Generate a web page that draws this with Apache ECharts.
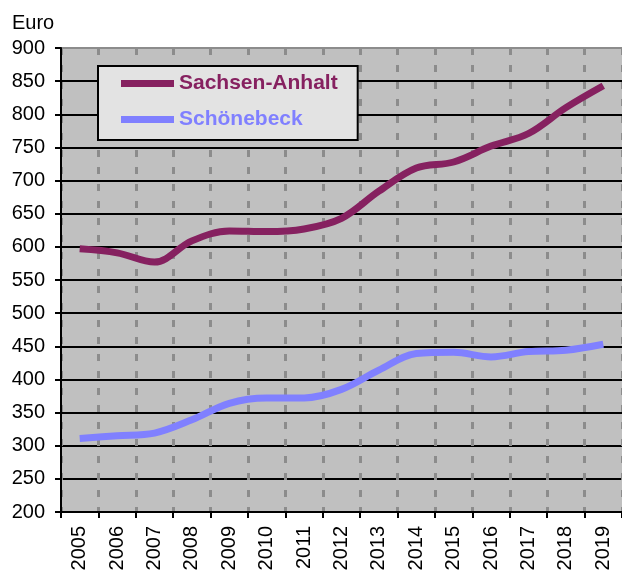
<!DOCTYPE html>
<html>
<head>
<meta charset="utf-8">
<script src="https://cdn.jsdelivr.net/npm/echarts@6/dist/echarts.min.js"></script>
<style>
html,body{margin:0;padding:0;background:#fff;}
#c{width:622px;height:574px;}
</style>
</head>
<body>
<div id="c"></div>
<script>
const years = ['2005','2006','2007','2008','2009','2010','2011','2012','2013','2014','2015','2016','2017','2018','2019'];
const sachsenAnhalt = [597, 591, 577, 609, 624, 623, 627, 643, 684, 719, 728, 752, 771, 810, 843];
const schoenebeck = [311, 315, 319, 339, 364, 372, 372, 385, 414, 439, 441, 434, 442, 444, 453];
const yTicks = { min: 200, max: 900, interval: 50 };
const seriesNames = ['Sachsen-Anhalt', 'Schönebeck'];
const seriesColors = ['#862160', '#8080ff'];

const font = 'Liberation Sans, Arial, sans-serif';
const chart = echarts.init(document.getElementById('c'), null, {renderer: 'canvas'});

const splitColors = [];
for (let v = yTicks.min; v <= yTicks.max; v += yTicks.interval) {
  splitColors.push(v === yTicks.max ? '#8c8c8c' : '#000000');
}

chart.setOption({
  animation: false,
  backgroundColor: '#ffffff',
  title: {
    text: 'Euro', left: 12, top: 13, padding: 0,
    textStyle: {fontFamily: font, fontSize: 20, fontWeight: 'normal', color: '#000'}
  },
  legend: {
    orient: 'vertical',
    left: 98, top: 66,
    backgroundColor: '#e3e3e3',
    borderColor: '#000', borderWidth: 2, borderRadius: 0,
    padding: [7, 20, 10, 23],
    itemGap: 15,
    itemWidth: 53, itemHeight: 7,
    icon: 'rect',
    data: seriesNames.map((n, i) => ({name: n, textStyle: {color: seriesColors[i]}})),
    textStyle: {fontFamily: font, fontSize: 21, fontWeight: 'bold'}
  },
  grid: {
    left: 61, top: 48, width: 570, bottom: 62,
    show: true, backgroundColor: '#c0c0c0', borderWidth: 0
  },
  xAxis: {
    type: 'category',
    data: years,
    boundaryGap: true,
    axisLine: {lineStyle: {color: '#000', width: 2}},
    axisTick: {show: true, length: 6, lineStyle: {color: '#000', width: 2}},
    axisLabel: {rotate: 90, margin: 14, fontFamily: font, fontSize: 20, color: '#000', interval: 0},
    splitLine: {show: true, interval: 0, lineStyle: {color: '#8c8c8c', width: 3, type: [7, 10]}}
  },
  yAxis: {
    type: 'value',
    min: yTicks.min, max: yTicks.max, interval: yTicks.interval,
    axisLine: {show: true, lineStyle: {color: '#000', width: 2}},
    axisTick: {show: true, length: 6, lineStyle: {color: '#000', width: 2}},
    axisLabel: {margin: 16, fontFamily: font, fontSize: 20, color: '#000'},
    splitLine: {show: true, lineStyle: {color: splitColors, width: 2}}
  },
  series: seriesNames.map((n, i) => ({
    name: n,
    type: 'line',
    data: i === 0 ? sachsenAnhalt : schoenebeck,
    smooth: 0.35,
    symbol: 'none',
    lineStyle: {color: seriesColors[i], width: 7},
    itemStyle: {color: seriesColors[i]}
  }))
});
</script>
</body>
</html>
